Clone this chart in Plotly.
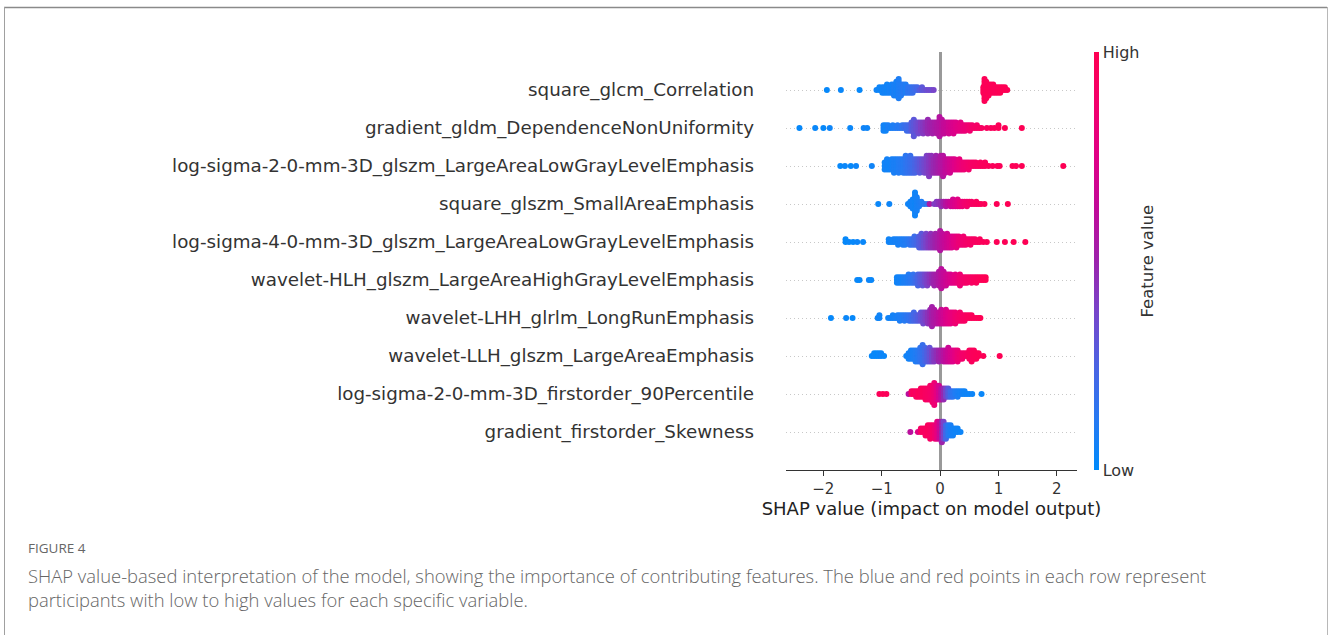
import numpy as np
import plotly.graph_objects as go

# Features, top to bottom
features = [
    "square_glcm_Correlation",
    "gradient_gldm_DependenceNonUniformity",
    "log-sigma-2-0-mm-3D_glszm_LargeAreaLowGrayLevelEmphasis",
    "square_glszm_SmallAreaEmphasis",
    "log-sigma-4-0-mm-3D_glszm_LargeAreaLowGrayLevelEmphasis",
    "wavelet-HLH_glszm_LargeAreaHighGrayLevelEmphasis",
    "wavelet-LHH_glrlm_LongRunEmphasis",
    "wavelet-LLH_glszm_LargeAreaEmphasis",
    "log-sigma-2-0-mm-3D_firstorder_90Percentile",
    "gradient_firstorder_Skewness",
]

# Each row: (SHAP value, number of samples at that value, feature value 0=low..1=high)
row_corr = [(-1.94,1,.02),(-1.70,1,.03),(-1.38,1,.02),(-1.09,1,.05),(-1.04,2,.04),(-0.99,3,.05),
            (-0.95,3,.06),(-0.91,4,.05),(-0.87,3,.07),(-0.83,4,.06),(-0.79,5,.08),(-0.75,6,.07),
            (-0.71,8,.09),(-0.67,5,.10),(-0.63,4,.12),(-0.59,4,.10),(-0.55,3,.14),(-0.51,3,.15),
            (-0.47,3,.18),(-0.43,2,.20),(-0.39,2,.22),(-0.35,1,.28),(-0.31,2,.30),(-0.27,1,.32),
            (-0.23,1,.34),(-0.19,1,.36),(-0.15,1,.35),(-0.11,1,.38),
            (0.74,3,.97),(0.76,9,.98),(0.79,7,.97),(0.83,5,.98),(0.87,4,.97),(0.91,4,.98),
            (0.95,3,.97),(0.99,3,.98),(1.03,3,.99),(1.07,2,.98),(1.11,2,.99),(1.15,1,.98)]

row_gldm = [(-2.41,1,.02),(-2.14,1,.03),(-2.00,1,.02),(-1.89,1,.04),(-1.54,1,.03),(-1.31,1,.05),(-1.25,1,.04),
            (-0.97,3,.06),(-0.93,3,.05),(-0.89,2,.08),(-0.85,1,.07),(-0.81,2,.09),(-0.77,1,.10),(-0.73,2,.12),
            (-0.69,1,.12),(-0.65,2,.15),(-0.61,2,.18),(-0.57,3,.20),(-0.53,3,.22),(-0.49,4,.28),(-0.45,7,.30),
            (-0.41,4,.33),(-0.37,5,.36),(-0.33,4,.40),(-0.29,5,.42),(-0.25,4,.45),(-0.21,6,.48),(-0.17,4,.50),
            (-0.13,5,.52),(-0.09,4,.54),(-0.05,5,.56),(-0.01,8,.58),(0.03,6,.60),(0.07,5,.63),(0.11,4,.65),
            (0.15,5,.68),(0.19,4,.70),(0.23,5,.72),(0.27,4,.74),(0.31,3,.76),(0.35,4,.78),(0.39,3,.80),
            (0.43,3,.82),(0.47,2,.84),(0.51,3,.86),(0.55,2,.88),(0.59,1,.90),(0.63,2,.91),(0.67,1,.92),
            (0.71,1,.93),(0.80,1,.94),(0.87,1,.95),(0.93,1,.96),(1.00,2,.97),(1.11,1,.98),(1.40,1,.99)]

row_ls2_lalg = [(-1.71,1,.02),(-1.63,1,.03),(-1.53,1,.02),(-1.44,1,.04),(-1.17,1,.05),
                (-0.95,3,.05),(-0.91,4,.06),(-0.87,3,.05),(-0.83,4,.07),(-0.79,5,.08),(-0.75,4,.08),
                (-0.71,5,.10),(-0.67,4,.11),(-0.63,5,.12),(-0.59,6,.14),(-0.55,5,.16),(-0.51,6,.18),
                (-0.47,5,.21),(-0.43,5,.24),(-0.39,4,.27),(-0.35,5,.30),(-0.31,4,.33),(-0.27,5,.36),
                (-0.23,6,.39),(-0.19,7,.42),(-0.15,6,.45),(-0.11,5,.48),(-0.07,6,.50),(-0.03,5,.53),
                (0.01,6,.56),(0.05,7,.58),(0.09,5,.62),(0.13,4,.65),(0.17,5,.68),(0.21,4,.71),
                (0.25,4,.74),(0.29,3,.77),(0.33,4,.80),(0.37,3,.82),(0.41,3,.84),(0.45,2,.86),
                (0.49,3,.88),(0.53,2,.90),(0.57,2,.91),(0.61,2,.92),(0.65,1,.93),(0.69,2,.94),
                (0.73,1,.95),(0.77,2,.95),(0.83,1,.96),(0.90,1,.96),(0.98,1,.97),(1.02,1,.97),
                (1.24,1,.98),(1.30,1,.98),(1.40,1,.99),(2.11,1,.99)]

row_sq_sae = [(-1.06,1,.03),(-0.87,1,.04),(-0.55,1,.05),(-0.51,3,.05),(-0.47,5,.06),(-0.43,11,.05),
              (-0.40,7,.07),(-0.36,3,.08),(-0.32,2,.10),(-0.27,1,.12),(-0.22,1,.15),(-0.18,1,.55),
              (-0.10,1,.40),(-0.06,2,.42),(-0.02,2,.45),(0.02,3,.48),(0.06,2,.52),(0.10,3,.58),
              (0.14,2,.62),(0.18,3,.66),(0.22,4,.70),(0.26,3,.73),(0.30,4,.76),(0.34,3,.80),
              (0.38,3,.83),(0.42,2,.86),(0.46,3,.88),(0.50,2,.90),(0.54,2,.92),(0.58,1,.93),
              (0.62,2,.94),(0.66,1,.95),(0.70,1,.96),(0.76,1,.97),(0.97,1,.98),(1.16,1,.99)]

row_ls4_lalg = [(-1.62,2,.02),(-1.56,1,.03),(-1.49,1,.02),(-1.42,1,.04),(-1.32,1,.03),
                (-0.88,2,.05),(-0.84,1,.05),(-0.80,2,.06),(-0.76,2,.07),(-0.72,3,.07),(-0.68,2,.08),
                (-0.64,3,.09),(-0.60,3,.10),(-0.56,2,.12),(-0.52,3,.14),(-0.48,3,.17),(-0.44,4,.20),
                (-0.40,3,.23),(-0.36,5,.27),(-0.32,6,.30),(-0.28,5,.34),(-0.24,6,.38),(-0.20,5,.42),
                (-0.16,6,.45),(-0.12,5,.48),(-0.08,6,.51),(-0.04,5,.54),(0.00,8,.57),(0.04,6,.61),
                (0.08,5,.64),(0.12,6,.67),(0.16,5,.70),(0.20,5,.73),(0.24,4,.76),(0.28,5,.79),
                (0.32,4,.82),(0.36,3,.84),(0.40,4,.86),(0.44,3,.88),(0.48,2,.90),(0.52,3,.91),
                (0.56,2,.92),(0.60,2,.93),(0.64,1,.94),(0.68,2,.95),(0.74,1,.96),(0.80,1,.97),
                (0.97,1,.98),(1.11,1,.98),(1.26,1,.99),(1.46,1,.99)]

row_hlh = [(-1.42,1,.03),(-1.38,1,.02),(-1.22,1,.04),(-1.18,1,.03),
           (-0.74,3,.05),(-0.70,3,.06),(-0.66,3,.06),(-0.62,3,.08),(-0.58,3,.09),(-0.54,4,.11),
           (-0.50,3,.13),(-0.46,4,.16),(-0.42,3,.20),(-0.38,5,.24),(-0.34,4,.28),(-0.30,5,.32),
           (-0.26,4,.36),(-0.22,5,.40),(-0.18,4,.44),(-0.14,4,.47),(-0.10,5,.50),(-0.06,4,.53),
           (-0.02,6,.56),(0.02,8,.60),(0.06,6,.63),(0.10,5,.66),(0.14,4,.69),(0.18,4,.72),
           (0.22,3,.75),(0.26,4,.78),(0.30,3,.81),(0.34,5,.84),(0.38,3,.86),(0.42,3,.88),
           (0.46,3,.90),(0.50,2,.91),(0.54,3,.92),(0.58,2,.94),(0.62,3,.95),(0.66,2,.96),
           (0.70,2,.97),(0.74,2,.98),(0.78,2,.99)]

row_lhh = [(-1.87,1,.02),(-1.61,1,.03),(-1.50,1,.02),(-1.07,1,.04),(-1.04,2,.05),
           (-0.89,1,.05),(-0.85,1,.06),(-0.81,2,.06),(-0.77,1,.07),(-0.73,2,.08),(-0.69,3,.09),
           (-0.65,2,.10),(-0.61,3,.12),(-0.57,2,.14),(-0.53,3,.16),(-0.49,3,.19),(-0.45,4,.22),
           (-0.41,3,.25),(-0.37,3,.28),(-0.33,4,.32),(-0.29,5,.36),(-0.25,4,.40),(-0.21,5,.44),
           (-0.17,6,.48),(-0.14,8,.52),(-0.10,6,.55),(-0.06,5,.58),(-0.02,5,.61),(0.02,6,.65),
           (0.06,5,.68),(0.10,6,.72),(0.14,5,.75),(0.18,5,.78),(0.22,4,.81),(0.26,5,.84),
           (0.30,3,.87),(0.34,4,.89),(0.38,3,.91),(0.42,3,.92),(0.46,2,.94),(0.50,2,.95),
           (0.54,2,.96),(0.58,1,.97),(0.62,1,.97),(0.66,1,.98),(0.69,1,.99)]

row_llh = [(-1.17,1,.02),(-1.13,2,.03),(-1.09,2,.02),(-1.05,2,.03),(-1.01,2,.04),(-0.96,1,.03),
           (-0.58,1,.05),(-0.54,3,.06),(-0.50,4,.07),(-0.46,4,.08),(-0.42,5,.10),(-0.38,5,.12),
           (-0.34,6,.15),(-0.30,8,.18),(-0.26,6,.22),(-0.22,5,.27),(-0.18,6,.32),(-0.14,5,.37),
           (-0.10,5,.42),(-0.06,4,.46),(-0.02,5,.50),(0.02,4,.54),(0.06,5,.58),(0.10,5,.62),
           (0.14,6,.66),(0.18,5,.70),(0.22,5,.74),(0.26,4,.78),(0.30,5,.82),(0.34,3,.85),
           (0.38,3,.88),(0.42,2,.90),(0.46,2,.92),(0.50,4,.94),(0.54,5,.95),(0.58,4,.96),
           (0.62,3,.97),(0.66,2,.98),(0.74,1,.98),(1.02,1,.99)]

row_p90 = [(-1.04,1,.97),(-0.98,1,.98),(-0.92,1,.97),(-0.54,1,.60),(-0.49,2,.92),(-0.45,2,.95),
           (-0.41,3,.93),(-0.37,3,.96),(-0.33,4,.94),(-0.29,4,.95),(-0.25,5,.93),(-0.21,5,.92),
           (-0.17,6,.90),(-0.13,7,.88),(-0.10,9,.84),(-0.06,6,.78),(-0.02,6,.70),(0.02,5,.60),
           (0.06,5,.48),(0.10,4,.38),(0.14,4,.28),(0.18,3,.20),(0.22,3,.14),(0.26,2,.10),
           (0.30,3,.08),(0.34,2,.07),(0.38,2,.06),(0.42,2,.05),(0.46,1,.05),(0.50,1,.04),
           (0.55,1,.04),(0.71,1,.03)]

row_skew = [(-0.51,1,.60),(-0.38,1,.75),(-0.33,2,.92),(-0.29,2,.94),(-0.25,3,.93),(-0.21,4,.95),
            (-0.17,5,.92),(-0.13,4,.90),(-0.09,5,.85),(-0.05,6,.78),(-0.01,6,.65),(0.03,7,.50),
            (0.06,6,.38),(0.10,5,.22),(0.14,4,.12),(0.18,4,.08),(0.22,3,.06),(0.26,2,.05),
            (0.30,2,.05),(0.35,1,.04)]

rows = [row_corr, row_gldm, row_ls2_lalg, row_sq_sae, row_ls4_lalg,
        row_hlh, row_lhh, row_llh, row_p90, row_skew]

# SHAP red-blue colormap (approximation of LCH interpolation)
shap_red_blue = [
    [0.0, "rgb(0,139,251)"],
    [0.125, "rgb(40,121,242)"],
    [0.25, "rgb(75,99,227)"],
    [0.375, "rgb(118,70,203)"],
    [0.5, "rgb(156,35,172)"],
    [0.625, "rgb(193,10,153)"],
    [0.75, "rgb(224,0,134)"],
    [0.875, "rgb(243,0,108)"],
    [1.0, "rgb(255,0,82)"],
]

# Plot area in pixels (for placing text/frames outside the axes)
W, H = 1328, 635
L, R, T, B = 786, 1077, 52, 470


def px(x):
    return (x - L) / (R - L)


def py(y):
    return (B - y) / (B - T)


def swarm(stacks, row_height=0.4):
    xs, offs, vs = [], [], []
    for x, n, v in stacks:
        for layer in range(n):
            xs.append(x)
            vs.append(v)
            offs.append(np.ceil(layer / 2) * ((layer % 2) * 2 - 1))
    offs = np.array(offs, dtype=float)
    offs *= 0.9 * (row_height / np.max(offs + 1))
    return xs, offs, vs


fig = go.Figure()
n_feat = len(features)
for i, stacks in enumerate(rows):
    pos = n_feat - 1 - i
    xs, offs, vs = swarm(stacks)
    fig.add_trace(go.Scatter(
        x=xs, y=pos + offs, mode="markers",
        marker=dict(size=6, color=vs, coloraxis="coloraxis", line=dict(width=0)),
        showlegend=False, hoverinfo="x",
    ))

font_main = "DejaVu Sans"
fig.update_layout(
    width=W, height=H,
    margin=dict(l=L, r=W - R, t=T, b=H - B),
    paper_bgcolor="white", plot_bgcolor="white",
    font=dict(family=font_main, color="#333333"),
    coloraxis=dict(
        colorscale=shap_red_blue, cmin=0, cmax=1,
        colorbar=dict(
            thickness=5, len=1, lenmode="fraction", y=0.5, yanchor="middle",
            x=px(1094), xanchor="left", xpad=0, ypad=0, outlinewidth=0,
            tickvals=[0, 1], ticktext=["Low", "High"], ticks="",
            tickfont=dict(family=font_main, size=16, color="#333333"),
        ),
    ),
    xaxis=dict(
        range=[-2.64, 2.345], tickvals=[-2, -1, 0, 1, 2],
        showgrid=False, zeroline=True, zerolinecolor="#999999", zerolinewidth=2.5,
        showline=True, linecolor="#333333", linewidth=1.2,
        ticks="outside", ticklen=5, tickwidth=1.2, tickcolor="#333333",
        tickfont=dict(family=font_main, size=15, color="#333333"),
        title=dict(text="SHAP value (impact on model output)",
                   font=dict(family=font_main, size=18, color="#222222"), standoff=4),
    ),
    yaxis=dict(
        range=[-1, n_feat], tickvals=list(range(n_feat)),
        ticktext=features[::-1],
        showgrid=True, gridcolor="#c8c8c8", griddash="1px,3px", gridwidth=1,
        zeroline=False, showline=False, ticks="", ticklabelstandoff=31,
        tickfont=dict(family=font_main, size=18.3, color="#333333"),
    ),
)

# Colorbar label
fig.add_annotation(text="Feature value", x=px(1158), y=py(261), xref="paper", yref="paper",
                   showarrow=False, textangle=-90,
                   font=dict(family=font_main, size=16.5, color="#333333"))

# Caption
cap_font = "Open Sans"
fig.add_annotation(text="FIGURE 4", x=px(25.5), y=py(548), xref="paper", yref="paper",
                   xanchor="left", yanchor="middle", showarrow=False,
                   font=dict(family=cap_font, size=13.5, color="#666666"))
fig.add_annotation(text="SHAP value-based interpretation of the model, showing the importance of contributing features. "
                        "The blue and red points in each row represent",
                   x=px(25.5), y=py(575), xref="paper", yref="paper",
                   xanchor="left", yanchor="middle", showarrow=False,
                   font=dict(family=cap_font, size=18.4, color="#666666", weight=300))
fig.add_annotation(text="participants with low to high values for each specific variable.",
                   x=px(25.5), y=py(599), xref="paper", yref="paper",
                   xanchor="left", yanchor="middle", showarrow=False,
                   font=dict(family=cap_font, size=18.4, color="#666666", weight=300))

# Page frame
fig.add_shape(type="line", xref="paper", yref="paper", x0=px(4), x1=px(1327), y0=py(7.5), y1=py(7.5),
              line=dict(color="#8a8a8a", width=1.3))
fig.add_shape(type="line", xref="paper", yref="paper", x0=px(4.5), x1=px(4.5), y0=py(7), y1=py(640),
              line=dict(color="#a0a0a0", width=1))
fig.add_shape(type="line", xref="paper", yref="paper", x0=px(1327.5), x1=px(1327.5), y0=py(7), y1=py(640),
              line=dict(color="#b8b8b8", width=1))

fig.write_html("out.html")
